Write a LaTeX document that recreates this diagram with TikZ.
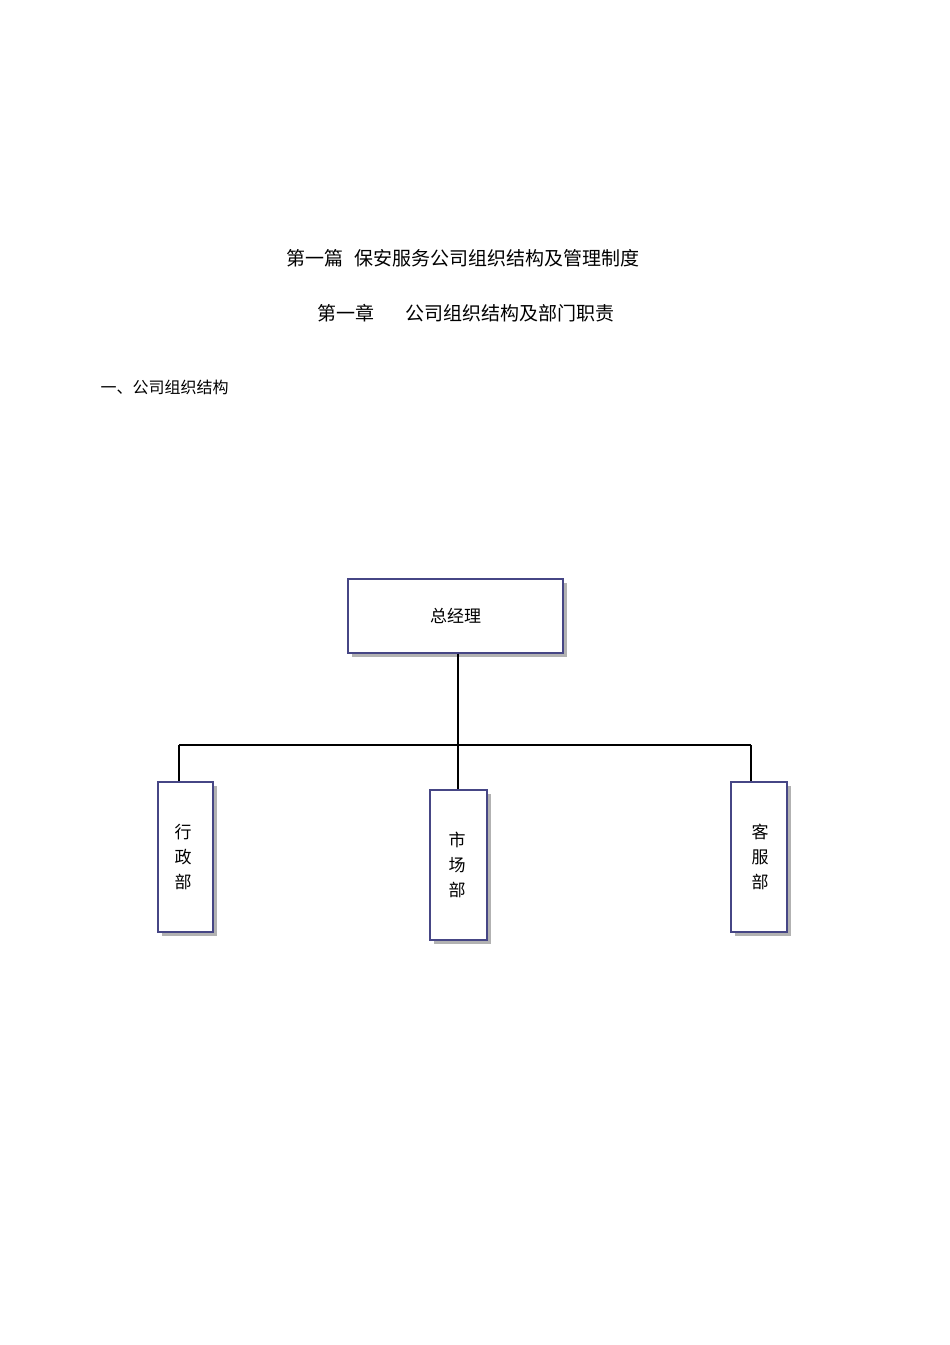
\documentclass[tikz,border=0pt]{standalone}
\usepackage{fontspec}
\newfontfamily\cjk{Noto Sans CJK SC}
\begin{document}
\begin{tikzpicture}[x=1pt,y=-1pt,
  box/.style={draw=black!45!blue!45!gray,line width=1.4pt,fill=white,inner sep=0pt},
  shadow/.style={fill=black!30},
  txt/.style={font=\cjk\fontsize{17}{20}\selectfont}]
\useasboundingbox (0,0) rectangle (950,1345);
\node[txt,font=\cjk\fontsize{19}{22}\selectfont] (t1) at (463,258) {第一篇\hspace{0.6em}保安服务公司组织结构及管理制度};
\node[txt,font=\cjk\fontsize{19}{22}\selectfont] (t2) at (466,313) {第一章\hspace{1.6em}公司组织结构及部门职责};
\node[txt,font=\cjk\fontsize{16}{19}\selectfont,anchor=west] (t3) at (97,387) {一、公司组织结构};
% shadows
\fill[shadow] (352,583) rectangle (567,657);
\fill[shadow] (162,786) rectangle (217,936);
\fill[shadow] (434,794) rectangle (491,944);
\fill[shadow] (735,786) rectangle (791,936);
\node[box,minimum width=215,minimum height=74] (gm) at (455.5,616) {};
\node[txt] at (gm.center) {总经理};
\node[box,minimum width=55,minimum height=150] (a) at (185.5,857) {};
\node[txt,align=center,font=\cjk\fontsize{17}{25}\selectfont] at (183,857) {行\\政\\部};
\node[box,minimum width=57,minimum height=150] (b) at (458.5,865) {};
\node[txt,align=center,font=\cjk\fontsize{17}{25}\selectfont] at (457,865) {市\\场\\部};
\node[box,minimum width=56,minimum height=150] (c) at (759,857) {};
\node[txt,align=center,font=\cjk\fontsize{17}{25}\selectfont] at (760,857) {客\\服\\部};
\coordinate (j) at (458,745);
\draw[line width=1.6pt] (gm.south -| j) -- (b.north -| j);
\draw[line width=1.6pt] (179,745) -- (751,745);
\draw[line width=1.6pt] (179,745) -- (a.north -| 179,0);
\draw[line width=1.6pt] (751,745) -- (c.north -| 751,0);
\end{tikzpicture}
\end{document}
